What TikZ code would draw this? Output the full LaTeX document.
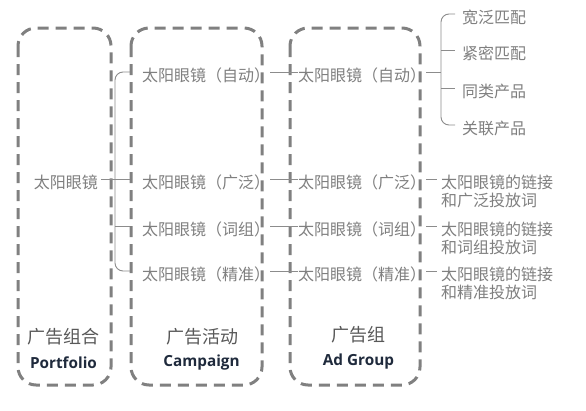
\documentclass[tikz,border=0pt]{standalone}
\usepackage{fontspec}
\setmainfont{Open Sans}
\newfontfamily\cjk{Noto Sans CJK SC}
\definecolor{boxgray}{HTML}{808080}
\definecolor{lngray}{HTML}{8C8C8C}
\definecolor{txtgray}{HTML}{7F7F7F}
\definecolor{labgray}{HTML}{595959}
\definecolor{navy}{HTML}{1F2A3C}
\begin{document}
\begin{tikzpicture}[x=1pt,y=-1pt,
  box/.style={draw=boxgray, line width=3pt, dash pattern=on 11pt off 7pt, rounded corners=18pt},
  tree/.style={font={\cjk\fontsize{16}{18}\selectfont}, text=txtgray, inner sep=0pt, text height=21pt, text depth=2pt},
  twoline/.style={font={\cjk\fontsize{16}{18.5}\selectfont}, text=txtgray, inner sep=0pt, align=left},
  conn/.style={draw=lngray, line width=0.9pt},
  cnlab/.style={font={\cjk\fontsize{18}{20}\selectfont}, text=labgray, inner sep=0pt},
  enlab/.style={font={\bfseries\fontsize{15.3}{17}\selectfont}, text=navy, inner sep=0pt}
]
\useasboundingbox (0,0) rectangle (586,410);
\fill[white] (0,0) rectangle (586,410);

% dashed boxes
\draw[box] (18,28) rectangle (111,385);
\draw[box] (131,28) rectangle (262,385);
\draw[box] (290,28) rectangle (420,385);

% portfolio
\node[tree, anchor=east] (P) at (98,179) {太阳眼镜};

% campaigns
\node[tree, anchor=west] (C1) at (142,72) {太阳眼镜（自动）};
\node[tree, anchor=west] (C2) at (142,179) {太阳眼镜（广泛）};
\node[tree, anchor=west] (C3) at (142,226) {太阳眼镜（词组）};
\node[tree, anchor=west] (C4) at (142,271) {太阳眼镜（精准）};

% ad groups
\node[tree, anchor=west] (A1) at (298,72) {太阳眼镜（自动）};
\node[tree, anchor=west] (A2) at (298,179) {太阳眼镜（广泛）};
\node[tree, anchor=west] (A3) at (298,226) {太阳眼镜（词组）};
\node[tree, anchor=west] (A4) at (298,271) {太阳眼镜（精准）};

% auto targeting
\node[tree, anchor=west] (K1) at (462,14) {宽泛匹配};
\node[tree, anchor=west] (K2) at (462,50) {紧密匹配};
\node[tree, anchor=west] (K3) at (462,88) {同类产品};
\node[tree, anchor=west] (K4) at (462,125) {关联产品};

% right two-line texts
\node[twoline, anchor=north west] (R2) at (441,174.5) {太阳眼镜的链接\\和广泛投放词};
\node[twoline, anchor=north west] (R3) at (441,221.5) {太阳眼镜的链接\\和词组投放词};
\node[twoline, anchor=north west] (R4) at (441,266.5) {太阳眼镜的链接\\和精准投放词};

% labels
\node[cnlab] (L1) at (63.5,337) {广告组合};
\node[enlab] (E1) at (63.5,363) {Portfolio};
\node[cnlab] (L2) at (202,337) {广告活动};
\node[enlab] (E2) at (201.5,363) {Campaign};
\node[cnlab] (L3) at (358,335) {广告组};
\node[enlab] (E3) at (358.5,362) {Ad Group};

% left bracket
\coordinate (lb) at (115,179);
\draw[conn, rounded corners=8pt] ([xshift=-12pt]C1.west) -| (lb) |- ([xshift=-12pt]C4.west);
\draw[conn] (lb |- C3.west) -- ([xshift=-12pt]C3.west);
\draw[conn, shorten <=3pt] (P.east) -- ([xshift=-12pt]C2.west);

% campaign -> ad group
\draw[conn] (C1.east) -- (A1.west);
\draw[conn] (C2.east) -- (A2.west);
\draw[conn] (C3.east) -- (A3.west);
\draw[conn] (C4.east) -- (A4.west);

% right bracket
\coordinate (rb) at (441,72);
\draw[conn] (A1.east) -- (rb);
\draw[conn, rounded corners=8pt] ([xshift=-7pt]K1.west) -| (rb) |- ([xshift=-7pt]K4.west);
\draw[conn] (rb |- K2.west) -- ([xshift=-7pt]K2.west);
\draw[conn] (rb |- K3.west) -- ([xshift=-7pt]K3.west);

% ad group -> targets
\draw[conn, shorten >=4pt] (A2.east) -- (A2.east -| R2.west);
\draw[conn, shorten >=4pt] (A3.east) -- (A3.east -| R3.west);
\draw[conn, shorten >=4pt] (A4.east) -- (A4.east -| R4.west);
\end{tikzpicture}
\end{document}
